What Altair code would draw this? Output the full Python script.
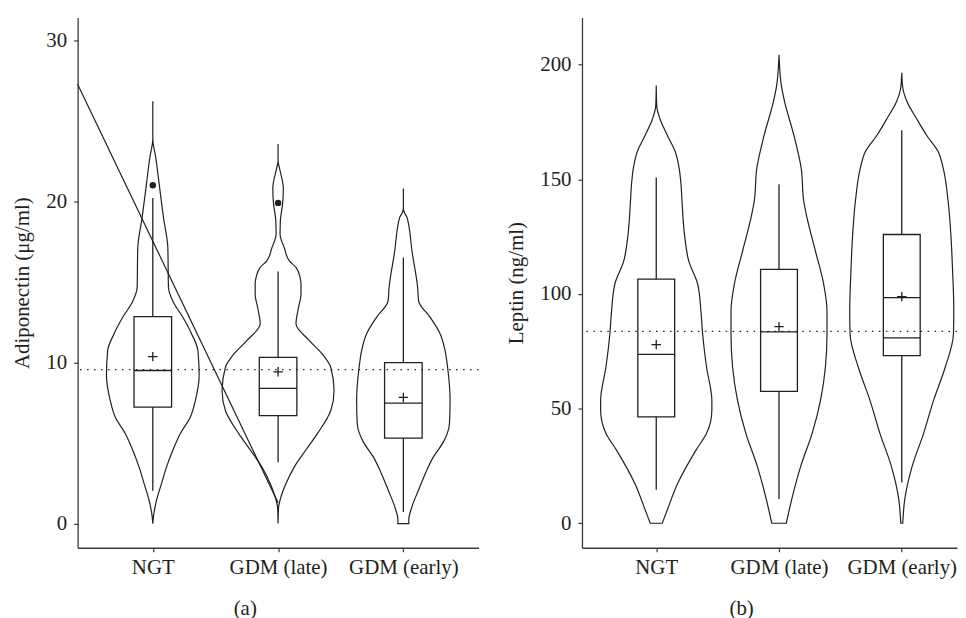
import altair as alt
import pandas as pd

INK = "#231f20"
FONT = "Liberation Serif"

groups = ["NGT", "GDM (late)", "GDM (early)"]
positions = [1, 2, 3]

# ---------------- Panel (a): Adiponectin ----------------
a_ngt_v = [0, 0.43, 1.46, 2.5, 3.52, 4.55, 5.59, 6.61, 7.65, 9.19, 10.74, 11.77, 12.8, 13.8, 14.65, 17.1, 19.0, 21.0, 22.7, 23.9, 26.2]
a_ngt_hw = [0, 0.005, 0.03, 0.07, 0.11, 0.16, 0.22, 0.30, 0.34, 0.37, 0.36, 0.31, 0.24, 0.16, 0.125, 0.12, 0.085, 0.052, 0.024, 0, 0]
a_late_v = [0, 1.0, 1.46, 2.5, 3.52, 4.55, 5.6, 7.0, 8.25, 9.7, 10.5, 11.35, 12.4, 13.3, 14.25, 14.86, 15.3, 15.9, 16.3, 17.1, 17.95, 18.77, 19.9, 20.8, 22.1, 22.5, 23.55]
a_late_hw = [0, 0.004, 0.016, 0.064, 0.13, 0.22, 0.315, 0.42, 0.447, 0.42, 0.355, 0.25, 0.143, 0.16, 0.183, 0.183, 0.175, 0.143, 0.09, 0.05, 0.016, 0.018, 0.037, 0.042, 0.01, 0, 0]
a_early_v = [0, 0.22, 1.05, 2.1, 3.1, 4.14, 5.07, 6.2, 7.65, 9.7, 10.74, 11.77, 12.8, 13.8, 14.65, 16.8, 19.0, 19.3, 19.6, 20.8]
a_early_hw = [0.044, 0.043, 0.069, 0.122, 0.175, 0.24, 0.32, 0.368, 0.373, 0.353, 0.333, 0.294, 0.214, 0.122, 0.114, 0.071, 0.029, 0.008, 0, 0]

a_q1 = [7.23, 6.7, 5.3]
a_med = [9.5, 8.39, 7.48]
a_q3 = [12.84, 10.32, 9.99]
a_wlo = [2.04, 3.8, 0.72]
a_whi = [20.2, 15.64, 16.5]
a_mean = [10.36, 9.42, 7.83]
a_out_pos = [1, 2]
a_out_v = [21.0, 19.9]
a_ref = 9.56
a_diag_x = [0.4, 2.0]
a_diag_y = [27.26, 1.3]

# ---------------- Panel (b): Leptin ----------------
b_ngt_v = [0, 4.5, 17.5, 31.9, 39.2, 49.3, 53.6, 68, 82.5, 92.6, 104.2, 114.3, 125.9, 140.3, 147.5, 155, 162, 169.2, 176.4, 182, 190.9]
b_ngt_hw = [0.049, 0.081, 0.176, 0.324, 0.41, 0.453, 0.453, 0.41, 0.378, 0.364, 0.338, 0.265, 0.23, 0.21, 0.202, 0.186, 0.155, 0.09, 0.03, 0.004, 0]
b_late_v = [0, 10.3, 24.7, 39.2, 53.6, 68, 82.5, 92.6, 104.2, 118.6, 133, 140.3, 154.7, 169.2, 183.7, 190.9, 204.3]
b_late_hw = [0.059, 0.103, 0.176, 0.27, 0.338, 0.378, 0.391, 0.391, 0.364, 0.297, 0.229, 0.202, 0.181, 0.121, 0.046, 0.019, 0]
b_early_v = [0, 10.3, 24.7, 39.2, 53.6, 68, 82.5, 92.6, 111.4, 125.9, 140.3, 154.7, 162, 169.2, 176.4, 183.7, 190, 196.4]
b_early_hw = [0.008, 0.024, 0.084, 0.178, 0.259, 0.354, 0.421, 0.424, 0.413, 0.4, 0.378, 0.338, 0.297, 0.202, 0.121, 0.044, 0.008, 0]

b_q1 = [46.4, 57.5, 73.1]
b_med = [73.6, 83.4, 80.8]
b_q3 = [106.4, 110.7, 125.9]
b_wlo = [14.6, 10.6, 17.8]
b_whi = [150.8, 147.8, 171.4]
b_mean = [77.9, 85.7, 98.8]
b_extra_pos = [3]
b_extra_line = [98.4]
b_ref = 83.7

BOX_HALF = 0.15
label_expr = "[" + ",".join("'%s'" % g for g in groups) + "][datum.value - 1]"
PLUS = "M-1,0L1,0M0,-1L0,1"


def violin_df(parts):
    rows = []
    for pos, vs, hws in parts:
        for v, hw in zip(vs, hws):
            rows.append({"grp": pos, "v": v, "xl": pos - hw, "xr": pos + hw})
    return pd.DataFrame(rows)


def stats_df(q1, med, q3, wlo, whi, mean):
    return pd.DataFrame({
        "pos": positions, "q1": q1, "med": med, "q3": q3,
        "wlo": wlo, "whi": whi, "mean": mean,
        "xl": [p - BOX_HALF for p in positions],
        "xr": [p + BOX_HALF for p in positions],
    })


def make_panel(vdf, sdf, ref, xdom, ydom, yticks, ytitle, xtitle, width, title_x, extra_layers):
    xs = alt.Scale(domain=xdom, nice=False, zero=False)
    ys = alt.Scale(domain=ydom, nice=False, zero=False)
    xaxis = alt.Axis(values=positions, labelExpr=label_expr, title=xtitle, grid=False,
                     tickSize=4, labelPadding=5, titleX=title_x, titleY=50,
                     titleBaseline="top", labelFlush=False)
    yaxis = alt.Axis(values=yticks, title=ytitle, grid=False, tickSize=4,
                     labelPadding=7, titlePadding=13)

    def X(f):
        return alt.X(f, scale=xs, axis=xaxis)

    def Y(f):
        return alt.Y(f, scale=ys, axis=yaxis)

    violins = alt.Chart(vdf).mark_area(
        orient="horizontal", interpolate="monotone", fillOpacity=0,
        stroke=INK, strokeWidth=1.2
    ).encode(y=Y("v:Q"), x=X("xl:Q"), x2="xr:Q", detail="grp:N")

    base = alt.Chart(sdf)
    w_lo = base.mark_rule(color=INK, strokeWidth=1.3).encode(x=X("pos:Q"), y=Y("wlo:Q"), y2="q1:Q")
    w_hi = base.mark_rule(color=INK, strokeWidth=1.3).encode(x=X("pos:Q"), y=Y("q3:Q"), y2="whi:Q")
    box = base.mark_rect(fillOpacity=0, stroke=INK, strokeWidth=1.3).encode(
        x=X("xl:Q"), x2="xr:Q", y=Y("q1:Q"), y2="q3:Q")
    med = base.mark_rule(color=INK, strokeWidth=1.3).encode(x=X("xl:Q"), x2="xr:Q", y=Y("med:Q"))
    mean = base.mark_point(shape=PLUS, size=90, filled=False, color=INK, opacity=1,
                           strokeWidth=1.3).encode(x=X("pos:Q"), y=Y("mean:Q"))
    refline = alt.Chart(pd.DataFrame({"r": [ref]})).mark_rule(
        color=INK, strokeWidth=1.3, strokeDash=[1.5, 5.5]).encode(y=Y("r:Q"))

    layers = [violins, w_lo, w_hi, box, med, mean, refline] + [f(X, Y) for f in extra_layers]
    return alt.layer(*layers).properties(width=width, height=533)


# panel a extras
def a_outliers(X, Y):
    return alt.Chart(pd.DataFrame({"pos": a_out_pos, "v": a_out_v})).mark_circle(
        size=42, color=INK, opacity=1).encode(x=X("pos:Q"), y=Y("v:Q"))


def a_diag(X, Y):
    return alt.Chart(pd.DataFrame({"x": a_diag_x, "y": a_diag_y})).mark_line(
        color=INK, strokeWidth=1.2).encode(x=X("x:Q"), y=Y("y:Q"))


def b_extra(X, Y):
    d = pd.DataFrame({"pos": b_extra_pos, "v": b_extra_line})
    d["xl"] = d["pos"] - BOX_HALF
    d["xr"] = d["pos"] + BOX_HALF
    return alt.Chart(d).mark_rule(color=INK, strokeWidth=1.3).encode(
        x=X("xl:Q"), x2="xr:Q", y=Y("v:Q"))


va = violin_df([(1, a_ngt_v, a_ngt_hw), (2, a_late_v, a_late_hw), (3, a_early_v, a_early_hw)])
vb = violin_df([(1, b_ngt_v, b_ngt_hw), (2, b_late_v, b_late_hw), (3, b_early_v, b_early_hw)])
sa = stats_df(a_q1, a_med, a_q3, a_wlo, a_whi, a_mean)
sb = stats_df(b_q1, b_med, b_q3, b_wlo, b_whi, b_mean)

pa = make_panel(va, sa, a_ref, [0.4, 3.6], [-1.5, 31.4], [0, 10, 20, 30],
                "Adiponectin (μg/ml)", "(a)", 403, 168, [a_diag, a_outliers])
pb = make_panel(vb, sb, b_ref, [0.395, 3.45], [-10.7, 220.5], [0, 50, 100, 150, 200],
                "Leptin (ng/ml)", "(b)", 377, 160, [b_extra])

chart = alt.hconcat(pa, pb, spacing=26).properties(
    padding={"left": 4, "top": 8, "right": 0, "bottom": 0}
).configure_axis(
    labelFont=FONT, titleFont=FONT, labelFontSize=21, titleFontSize=21,
    titleFontWeight="normal", labelColor=INK, titleColor=INK,
    domainColor="#3a3a3a", tickColor="#3a3a3a", domainWidth=1.3, tickWidth=1.2
).configure_view(strokeWidth=0)

chart.save("out.html", embed_options={"renderer": "svg", "actions": False})
